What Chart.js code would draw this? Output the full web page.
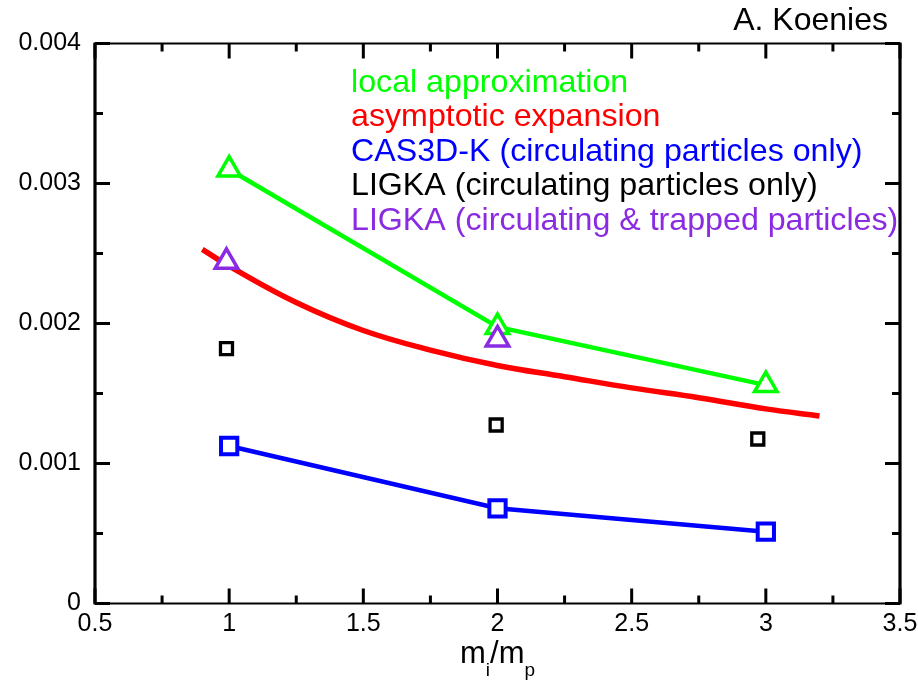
<!DOCTYPE html>
<html>
<head>
<meta charset="utf-8">
<script src="https://cdn.jsdelivr.net/npm/chart.js@4"></script>
<style>
  html, body { margin: 0; padding: 0; background: #ffffff; }
  #wrap { width: 918px; height: 680px; }
</style>
</head>
<body>
<div id="wrap"><canvas id="c" width="918" height="680"></canvas></div>
<script>
// ---------- data ----------
const seriesNames = [
  'local approximation',
  'asymptotic expansion',
  'CAS3D-K (circulating particles only)',
  'LIGKA (circulating particles only)',
  'LIGKA (circulating & trapped particles)'
];
const seriesColors = ['#00ff00', '#ff0000', '#0000ff', '#000000', '#8a2be2'];

const localX = [1, 2, 3];
const localY = [0.00310, 0.001975, 0.00156];

const asymX = [0.9, 1.0, 1.25, 1.5, 1.75, 2.0, 2.25, 2.5, 2.75, 3.0, 3.2];
const asymY = [0.00253, 0.00241, 0.00215, 0.00195, 0.00181, 0.00170, 0.00162, 0.00154, 0.00147, 0.00139, 0.00134];

const casX = [1, 2, 3];
const casY = [0.001125, 0.00068, 0.000513];

const ligkaCircX = [0.99, 1.995, 2.97];
const ligkaCircY = [0.00182, 0.001275, 0.001175];

const ligkaTrapX = [0.99, 2.0];
const ligkaTrapY = [0.002441, 0.001886];

const xTickLabels = ['0.5', '1', '1.5', '2', '2.5', '3', '3.5'];
const yTickLabels = ['0', '0.001', '0.002', '0.003', '0.004'];

const xTitleParts = [['m', false], ['i', true], ['/m', false], ['p', true]];
const authorText = 'A. Koenies';

// ---------- helpers ----------
const FONT = '"Liberation Sans", Arial, Helvetica, sans-serif';
const pts = (xs, ys) => xs.map((x, i) => ({ x: x, y: ys[i] }));

// frame + inward ticks + text annotations
const decorPlugin = {
  id: 'decor',
  afterDraw(chart) {
    const ctx = chart.ctx;
    const xs = chart.scales.x, ys = chart.scales.y;
    const L = xs.left, R = xs.right, T = ys.top, B = ys.bottom;
    ctx.save();
    ctx.strokeStyle = '#000';
    ctx.lineCap = 'butt';
    // frame
    ctx.lineWidth = 2;
    ctx.beginPath(); ctx.moveTo(L, T); ctx.lineTo(R, T); ctx.stroke();
    ctx.beginPath(); ctx.moveTo(L, B); ctx.lineTo(R, B); ctx.stroke();
    ctx.lineWidth = 3.2;
    ctx.beginPath(); ctx.moveTo(L, T - 1); ctx.lineTo(L, B + 1); ctx.stroke();
    ctx.beginPath(); ctx.moveTo(R, T - 1); ctx.lineTo(R, B + 1); ctx.stroke();
    // ticks
    ctx.lineWidth = 3;
    const xMaj = xs.ticks.map(t => t.value);
    const xMin = [];
    for (let i = 0; i < xMaj.length - 1; i++) xMin.push((xMaj[i] + xMaj[i + 1]) / 2);
    const yMaj = ys.ticks.map(t => t.value);
    const yMin = [];
    for (let i = 0; i < yMaj.length - 1; i++) yMin.push((yMaj[i] + yMaj[i + 1]) / 2);
    const MAJ = 15, MIN = 8;
    const vt = (v, len) => {
      const p = xs.getPixelForValue(v);
      ctx.beginPath(); ctx.moveTo(p, B); ctx.lineTo(p, B - len); ctx.stroke();
      ctx.beginPath(); ctx.moveTo(p, T); ctx.lineTo(p, T + len); ctx.stroke();
    };
    const ht = (v, len) => {
      const p = ys.getPixelForValue(v);
      ctx.beginPath(); ctx.moveTo(L, p); ctx.lineTo(L + len, p); ctx.stroke();
      ctx.beginPath(); ctx.moveTo(R, p); ctx.lineTo(R - len, p); ctx.stroke();
    };
    xMaj.forEach(v => vt(v, MAJ)); xMin.forEach(v => vt(v, MIN));
    yMaj.forEach(v => ht(v, MAJ)); yMin.forEach(v => ht(v, MIN));

    // legend text (coloured labels, no markers)
    ctx.font = '30.5px ' + FONT;
    ctx.textAlign = 'left';
    ctx.textBaseline = 'alphabetic';
    chart.data.datasets.forEach((ds, i) => {
      ctx.save();
      ctx.translate(351, 92 + 34.4 * i);
      ctx.scale(1.055, 1);
      ctx.fillStyle = ds.borderColor;
      ctx.fillText(ds.label, 0, 0);
      ctx.restore();
    });

    // author
    ctx.fillStyle = '#000';
    ctx.font = '32px ' + FONT;
    ctx.textAlign = 'right';
    ctx.fillText(authorText, 888, 30);

    // x-axis title with subscripts
    const big = '31px ' + FONT, small = '19px ' + FONT;
    let total = 0;
    xTitleParts.forEach(([s, sub]) => { ctx.font = sub ? small : big; total += ctx.measureText(s).width; });
    let cx = (L + R) / 2 - total / 2;
    ctx.textAlign = 'left';
    xTitleParts.forEach(([s, sub]) => {
      ctx.font = sub ? small : big;
      ctx.fillText(s, cx, sub ? 676 : 663);
      cx += ctx.measureText(s).width;
    });
    ctx.restore();
  }
};

const ds = (i, data, extra) => Object.assign({
  label: seriesNames[i],
  data: data,
  borderColor: seriesColors[i],
  backgroundColor: '#ffffff',
  pointBackgroundColor: '#ffffff',
  pointBorderColor: seriesColors[i],
  fill: false
}, extra);

new Chart(document.getElementById('c'), {
  type: 'line',
  data: {
    datasets: [
      ds(0, pts(localX, localY), { borderWidth: 4.5, pointStyle: 'triangle', pointRadius: 13, pointBorderWidth: 3.5, order: 1 }),
      ds(1, pts(asymX, asymY), { borderWidth: 5.5, pointRadius: 0, tension: 0.4, order: 3 }),
      ds(2, pts(casX, casY), { borderWidth: 4.5, pointStyle: 'rect', pointRadius: 11.5, pointBorderWidth: 4, order: 2 }),
      ds(3, pts(ligkaCircX, ligkaCircY), { showLine: false, pointStyle: 'rect', pointRadius: 8.5, pointBorderWidth: 3.3, order: 0 }),
      ds(4, pts(ligkaTrapX, ligkaTrapY), { showLine: false, pointStyle: 'triangle', pointRadius: 13, pointBorderWidth: 3.5, order: 0 })
    ]
  },
  options: {
    responsive: false,
    animation: false,
    devicePixelRatio: 1,
    layout: { padding: { top: 43.5, right: 18, left: 0, bottom: 0 } },
    plugins: { legend: { display: false }, tooltip: { enabled: false }, title: { display: false } },
    scales: {
      x: {
        type: 'linear', min: 0.5, max: 3.5,
        grid: { display: false, drawTicks: false },
        border: { display: false },
        ticks: {
          stepSize: 0.5, padding: 6, color: '#000', font: { family: FONT, size: 25 },
          callback: (v, i) => xTickLabels[i]
        },
        afterFit: s => { s.height = 76.5; s.paddingLeft = 0; s.paddingRight = 0; }
      },
      y: {
        type: 'linear', min: 0, max: 0.004,
        grid: { display: false, drawTicks: false },
        border: { display: false },
        ticks: {
          stepSize: 0.001, padding: 14, color: '#000', font: { family: FONT, size: 25 },
          callback: (v, i) => yTickLabels[i]
        },
        afterFit: s => { s.width = 95; s.paddingTop = 0; s.paddingBottom = 0; }
      }
    }
  },
  plugins: [decorPlugin]
});
</script>
</body>
</html>
